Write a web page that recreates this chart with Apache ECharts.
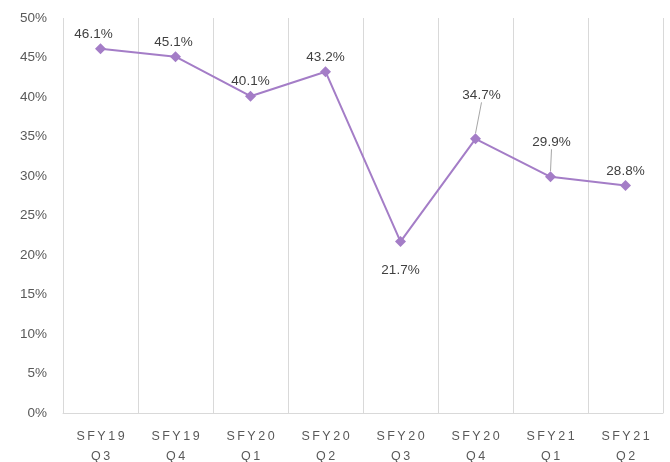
<!DOCTYPE html>
<html>
<head>
<meta charset="utf-8">
<script src="https://cdn.jsdelivr.net/npm/echarts@6/dist/echarts.min.js"></script>
<style>
	html, body { margin: 0; padding: 0; background: #fff; }
	#main { width: 670px; height: 462px; }
</style>
</head>
<body>
<div id="main"></div>
<script>
	var categories = ['SFY19 Q3', 'SFY19 Q4', 'SFY20 Q1', 'SFY20 Q2', 'SFY20 Q3', 'SFY20 Q4', 'SFY21 Q1', 'SFY21 Q2'];
	var rates = [46.1, 45.1, 40.1, 43.2, 21.7, 34.7, 29.9, 28.8];
	var yTicks = { min: 0, max: 50, step: 5 };

	// label nudges (px) per point; leader line where it is pushed far
	var labelDy = [0, 0, 0, 0, 0, -29, -20, 0];
	var labelDx = [-7, -2, 0, 0, 0, 6, 1, 0];

	var chart = echarts.init(document.getElementById('main'));

	function spaced(s) {
		return s.split('').join('\u2009');
	}

	var seriesData = [];
	for (var i = 0; i < rates.length; i++) {
		var item = { value: rates[i] };
		if (i === 4) {
			item.label = { position: 'bottom', distance: 16 };
		}
		if (labelDy[i] < 0) {
			item.labelLine = { show: true };
		}
		seriesData.push(item);
	}

	var option = {
		backgroundColor: '#ffffff',
		animation: false,
		grid: {
			left: 63,
			right: 7,
			top: 18,
			bottom: 49,
			containLabel: false,
			outerBoundsMode: 'none'
		},
		xAxis: {
			type: 'category',
			data: categories,
			boundaryGap: true,
			axisTick: { show: false },
			axisLine: {
				show: true,
				lineStyle: { color: '#d9d9d9', width: 1 }
			},
			splitLine: {
				show: true,
				lineStyle: { color: '#d9d9d9', width: 1 }
			},
			axisLabel: {
				color: '#595959',
				fontFamily: 'Liberation Sans',
				fontSize: 12.5,
				margin: 14,
				lineHeight: 20,
				interval: 0,
				formatter: function (v) {
					var parts = v.split(' ');
					return spaced(parts[0]) + '\n' + spaced(parts[1]);
				}
			}
		},
		yAxis: {
			type: 'value',
			min: yTicks.min,
			max: yTicks.max,
			interval: yTicks.step,
			axisLine: { show: false },
			axisTick: { show: false },
			splitLine: { show: false },
			axisLabel: {
				color: '#595959',
				fontFamily: 'Liberation Sans',
				fontSize: 13.5,
				margin: 16,
				formatter: '{value}%'
			}
		},
		series: [{
			type: 'line',
			data: seriesData,
			symbol: 'diamond',
			symbolSize: 11,
			lineStyle: { color: '#a47dc7', width: 2 },
			itemStyle: { color: '#a47dc7' },
			label: {
				show: true,
				position: 'top',
				distance: 2,
				color: '#404040',
				fontFamily: 'Liberation Sans',
				fontSize: 13.5,
				formatter: function (p) {
					return p.value.toFixed(1) + '%';
				}
			},
			labelLine: {
				show: false,
				lineStyle: { color: '#a6a6a6', width: 1 }
			},
			labelLayout: function (p) {
				return { dx: labelDx[p.dataIndex], dy: labelDy[p.dataIndex] };
			}
		}]
	};
	chart.setOption(option);
</script>
</body>
</html>
